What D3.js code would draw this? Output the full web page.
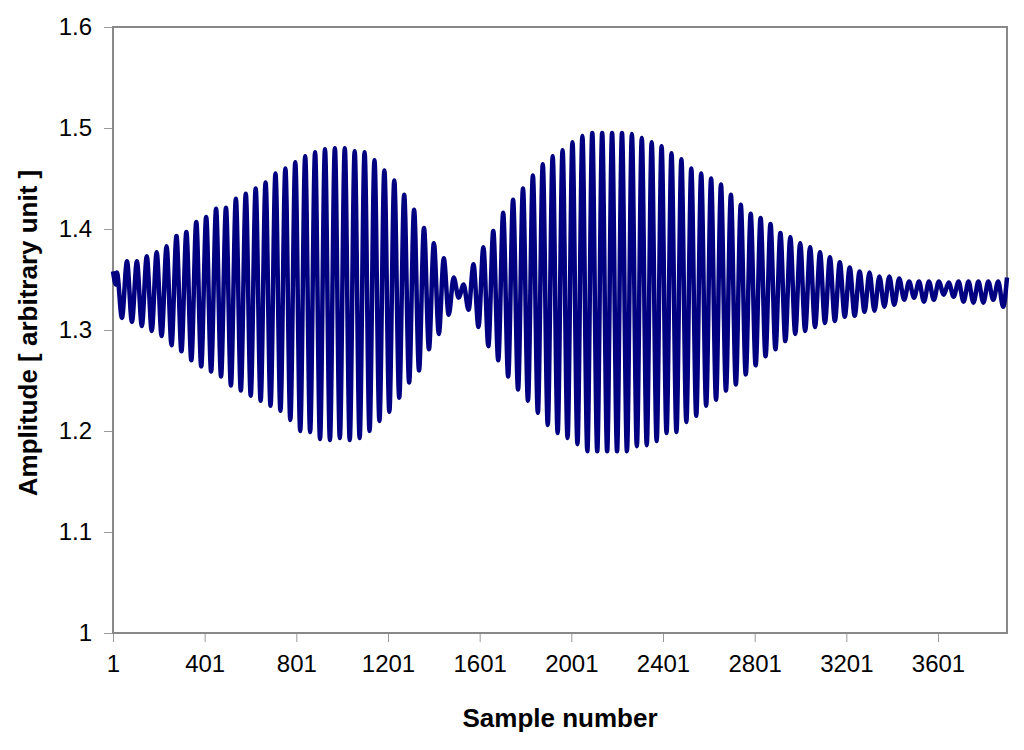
<!DOCTYPE html>
<html>
<head>
<meta charset="utf-8">
<script src="https://cdn.jsdelivr.net/npm/d3@7"></script>
<style>
  body { margin: 0; background: #fff; }
  text { font-family: "Liberation Sans", Arial, sans-serif; fill: #000; }
</style>
</head>
<body>
<div class="container"></div>
<script>
// values
const xTicks = [1, 401, 801, 1201, 1601, 2001, 2401, 2801, 3201, 3601];
const yTicks = [1, 1.1, 1.2, 1.3, 1.4, 1.5, 1.6];
const lastSample = 3902;

// first few samples before the regular oscillation
const leadIn = [[1, 1.358], [14, 1.345], [18, 1.357], [40, 1.312]];
const endPoint = [3902, 1.352];

// one cycle is roughly 43 samples, first clear crest at sample 62
const firstPeakSample = 62;
const cycleSamples = 43.2;

// crest value of each cycle
const peakValues = [
  1.368, 1.368, 1.373, 1.377, 1.383, 1.393, 1.397, 1.407, 1.412, 1.420,
  1.421, 1.430, 1.435, 1.440, 1.446, 1.455, 1.460, 1.466, 1.472, 1.476,
  1.479, 1.480, 1.480, 1.477, 1.476, 1.468, 1.458, 1.448, 1.434, 1.419,
  1.401, 1.386, 1.371, 1.352, 1.345, 1.365, 1.382, 1.398, 1.416, 1.429,
  1.440, 1.453, 1.464, 1.472, 1.478, 1.486, 1.492, 1.495, 1.495, 1.495,
  1.495, 1.494, 1.490, 1.486, 1.482, 1.475, 1.469, 1.460, 1.455, 1.450,
  1.444, 1.434, 1.424, 1.415, 1.411, 1.405, 1.396, 1.392, 1.386, 1.382,
  1.377, 1.372, 1.367, 1.362, 1.358, 1.357, 1.353, 1.353, 1.351, 1.348,
  1.348, 1.348, 1.348, 1.347, 1.348, 1.348, 1.348, 1.348, 1.348
];

// trough value following each crest
const troughValues = [
  1.308, 1.304, 1.299, 1.294, 1.285, 1.279, 1.270, 1.264, 1.259, 1.254,
  1.245, 1.240, 1.235, 1.230, 1.225, 1.220, 1.211, 1.200, 1.199, 1.192,
  1.191, 1.193, 1.191, 1.193, 1.200, 1.210, 1.219, 1.233, 1.248, 1.260,
  1.281, 1.296, 1.315, 1.332, 1.320, 1.303, 1.284, 1.270, 1.254, 1.241,
  1.230, 1.218, 1.206, 1.198, 1.193, 1.187, 1.180, 1.180, 1.180, 1.180,
  1.180, 1.185, 1.186, 1.190, 1.198, 1.199, 1.209, 1.215, 1.225, 1.231,
  1.240, 1.246, 1.256, 1.265, 1.274, 1.281, 1.289, 1.296, 1.299, 1.303,
  1.307, 1.309, 1.313, 1.314, 1.318, 1.319, 1.323, 1.325, 1.330, 1.332,
  1.328, 1.330, 1.335, 1.333, 1.328, 1.327, 1.327, 1.330, 1.323
];

// build the series of extremes
const points = leadIn.slice();
peakValues.forEach((v, i) => {
  const s = firstPeakSample + i * cycleSamples;
  points.push([s, v]);
  points.push([s + cycleSamples / 2, troughValues[i]]);
});
points.push(endPoint);

const width = 1024;
const height = 750;
const margin = { top: 27, right: 17, bottom: 117, left: 113 };

const svg = d3
  .select(".container")
  .append("svg")
  .attr("width", width)
  .attr("height", height);

const x = d3
  .scaleLinear()
  .domain([1, lastSample])
  .range([margin.left, width - margin.right]);

const y = d3
  .scaleLinear()
  .domain([1, 1.6])
  .range([height - margin.bottom, margin.top]);

// y axis
const yAxis = svg
  .append("g")
  .attr("transform", `translate(${margin.left},0)`)
  .call(
    d3.axisLeft(y)
      .tickValues(yTicks)
      .tickSize(9)
      .tickPadding(12)
      .tickFormat(d3.format("~g"))
  );
yAxis.select(".domain").remove();
yAxis.selectAll(".tick line").attr("stroke", "#999");
yAxis.selectAll(".tick text").style("font-size", "24px");

// x axis
const xAxis = svg
  .append("g")
  .attr("transform", `translate(0,${height - margin.bottom})`)
  .call(
    d3.axisBottom(x)
      .tickValues(xTicks)
      .tickSize(9)
      .tickPadding(13)
      .tickFormat(d3.format("d"))
  );
xAxis.select(".domain").remove();
xAxis.selectAll(".tick line").attr("stroke", "#999");
xAxis.selectAll(".tick text").style("font-size", "24px");

// plot frame
svg
  .append("rect")
  .attr("x", margin.left)
  .attr("y", margin.top)
  .attr("width", width - margin.left - margin.right)
  .attr("height", height - margin.top - margin.bottom)
  .attr("fill", "none")
  .attr("stroke", "#888")
  .attr("stroke-width", 2);

// the signal
const line = d3
  .line()
  .x((d) => x(d[0]))
  .y((d) => y(d[1]))
  .curve(d3.curveMonotoneX);

svg
  .append("path")
  .datum(points)
  .attr("fill", "none")
  .attr("stroke", "#000080")
  .attr("stroke-width", 4.5)
  .attr("stroke-linejoin", "round")
  .attr("d", line);

// titles
svg
  .append("text")
  .attr("x", (margin.left + width - margin.right) / 2)
  .attr("y", 727)
  .attr("text-anchor", "middle")
  .style("font-size", "26px")
  .style("font-weight", "bold")
  .text("Sample number");

svg
  .append("text")
  .attr("transform", `translate(37,${(margin.top + height - margin.bottom) / 2 + 3}) rotate(-90)`)
  .attr("text-anchor", "middle")
  .style("font-size", "26px")
  .style("font-weight", "bold")
  .text("Amplitude [ arbitrary unit ]");
</script>
</body>
</html>
